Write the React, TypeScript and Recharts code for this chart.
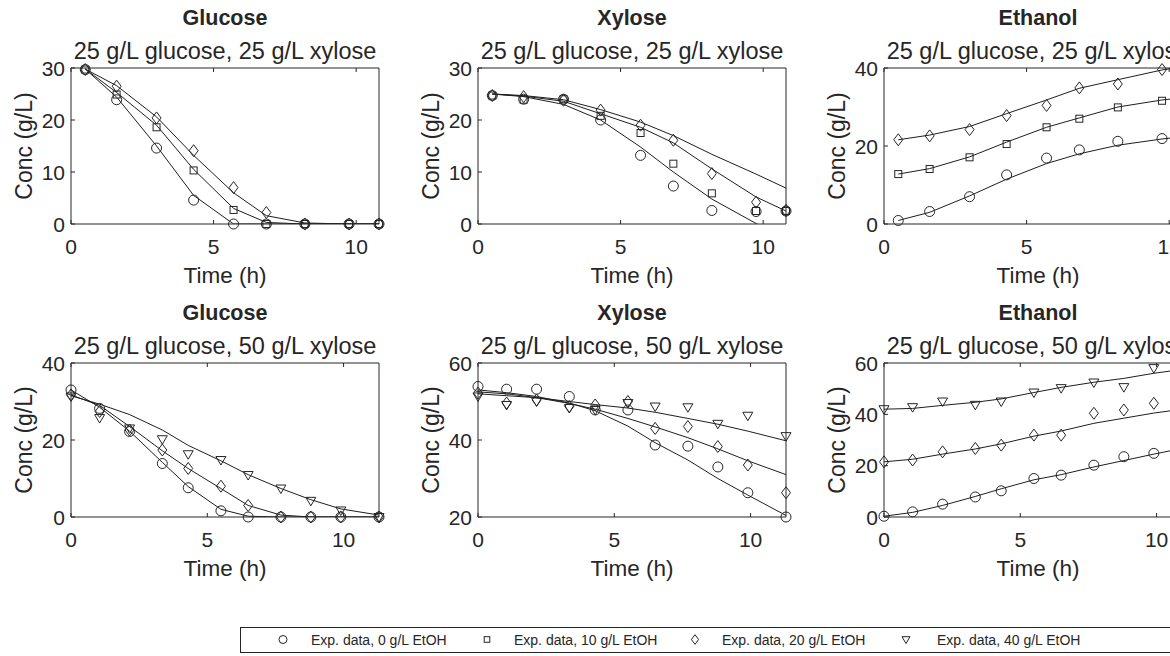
import React from "react";
import { ComposedChart, Line, Scatter, XAxis, YAxis } from "recharts";

// Cinética de glicose / xilose / etanol: pontos experimentais (marcadores) e curvas do modelo
// (linhas). Linha de cima = 25 g/L glicose + 25 g/L xilose; linha de baixo = 25 + 50.

const INK = "#262626";
const FONT = "'Liberation Sans', Arial, Helvetica, sans-serif";

const TIMES_A = [0.5, 1.6, 3.0, 4.3, 5.7, 6.85, 8.2, 9.75, 10.8];
const TIMES_B = [0, 1.05, 2.15, 3.35, 4.3, 5.5, 6.5, 7.7, 8.8, 9.9, 11.3];
const X_TICKS = [0, 5, 10];

// ---- 25 g/L glucose, 25 g/L xylose (0 / 10 / 20 g/L EtOH) ----
const GLU_A_EXP_0 = [29.7, 23.9, 14.6, 4.6, 0, 0, 0, 0, 0];
const GLU_A_EXP_10 = [29.7, 24.9, 18.6, 10.3, 2.7, 0, 0, 0, 0];
const GLU_A_EXP_20 = [29.7, 26.5, 20.4, 14.1, 7.0, 2.2, 0, 0, 0];
const GLU_A_MOD_0 = [29.8, 24.4, 15.0, 5.5, 0, 0, 0, 0, 0];
const GLU_A_MOD_10 = [29.8, 25.3, 19.0, 10.5, 3.0, 0.3, 0, 0, 0];
const GLU_A_MOD_20 = [29.8, 26.6, 20.6, 13.2, 6.0, 1.6, 0.2, 0, 0];

const XYL_A_EXP_0 = [24.7, 24.0, 24.0, 20.0, 13.2, 7.3, 2.6, 2.4, 2.5];
const XYL_A_EXP_10 = [24.7, 23.9, 24.0, 20.8, 17.5, 11.6, 5.9, 2.5, 2.5];
const XYL_A_EXP_20 = [24.7, 24.5, 23.8, 21.9, 19.0, 16.1, 9.7, 4.2, 2.6];
const XYL_A_MOD_0 = [25.0, 24.5, 23.0, 20.0, 14.8, 10.0, 4.8, 0.1, -3.0];
const XYL_A_MOD_10 = [25.0, 24.6, 23.6, 21.2, 18.6, 15.6, 10.6, 5.2, 2.5];
const XYL_A_MOD_20 = [25.0, 24.7, 23.9, 22.0, 19.6, 17.0, 13.4, 9.6, 6.9];

const ETH_A_EXP_0 = [0.9, 3.2, 7.0, 12.6, 16.9, 19.0, 21.2, 21.9, 22.6];
const ETH_A_EXP_10 = [12.8, 14.1, 17.1, 20.5, 24.8, 27.0, 29.9, 31.6, 32.5];
const ETH_A_EXP_20 = [21.6, 22.6, 24.2, 27.8, 30.4, 34.9, 35.9, 39.6, 40.0];
const ETH_A_MOD_0 = [0.9, 3.0, 7.2, 11.5, 15.5, 18.0, 20.2, 21.8, 22.6];
const ETH_A_MOD_10 = [12.8, 14.2, 17.2, 21.0, 24.8, 27.2, 30.0, 31.8, 32.6];
const ETH_A_MOD_20 = [21.6, 22.8, 25.0, 28.3, 31.8, 34.8, 37.0, 39.5, 40.6];

// ---- 25 g/L glucose, 50 g/L xylose (0 / 20 / 40 g/L EtOH) ----
const GLU_B_EXP_0 = [33.0, 28.2, 22.2, 13.9, 7.6, 1.6, 0, 0, 0, 0, 0];
const GLU_B_EXP_20 = [31.7, 27.4, 22.6, 17.4, 12.6, 8.0, 3.0, 0, 0, 0, 0];
const GLU_B_EXP_40 = [31.3, 25.7, 23.0, 20.2, 16.3, 14.8, 10.9, 7.4, 4.2, 1.7, 0];
const GLU_B_MOD_0 = [33.0, 28.5, 22.3, 14.2, 7.9, 2.0, 0.2, 0, 0, 0, 0];
const GLU_B_MOD_20 = [31.7, 29.0, 23.5, 17.2, 12.6, 7.4, 3.0, 0.5, 0, 0, 0];
const GLU_B_MOD_40 = [31.5, 29.3, 26.6, 22.6, 18.6, 14.6, 11.0, 7.4, 4.5, 2.1, 0.5];

const XYL_B_EXP_0 = [53.9, 53.2, 53.2, 51.3, 47.8, 47.8, 38.7, 38.4, 33.0, 26.3, 20.0];
const XYL_B_EXP_20 = [52.2, 49.6, 50.4, 48.7, 49.1, 50.0, 43.0, 43.5, 38.3, 33.5, 26.3];
const XYL_B_EXP_40 = [51.3, 49.1, 50.0, 48.3, 47.8, 49.6, 48.7, 48.5, 44.2, 46.3, 41.0];
const XYL_B_MOD_0 = [53.0, 52.3, 51.3, 49.6, 47.6, 43.6, 39.3, 34.8, 30.0, 25.7, 20.4];
const XYL_B_MOD_20 = [52.5, 52.0, 51.0, 49.5, 48.0, 45.6, 43.4, 40.6, 37.7, 34.6, 31.0];
const XYL_B_MOD_40 = [52.0, 51.5, 51.0, 50.0, 49.2, 48.3, 47.2, 45.6, 44.1, 42.3, 39.8];

const ETH_B_EXP_0 = [0.3, 2.0, 5.0, 7.8, 10.2, 15.0, 16.3, 20.2, 23.5, 24.8, 27.0];
const ETH_B_EXP_20 = [21.5, 22.2, 25.4, 26.7, 28.0, 31.9, 31.9, 40.4, 41.7, 44.3, 46.0];
const ETH_B_EXP_40 = [42.0, 42.8, 45.0, 43.7, 45.0, 48.5, 50.2, 52.4, 50.6, 58.0, 59.0];
const ETH_B_MOD_0 = [0.3, 1.8, 4.5, 8.0, 11.0, 14.5, 16.5, 19.5, 22.0, 24.5, 27.5];
const ETH_B_MOD_20 = [21.5, 22.5, 24.5, 26.5, 28.5, 31.5, 33.5, 36.5, 38.5, 40.5, 42.5];
const ETH_B_MOD_40 = [42.0, 42.3, 43.5, 44.7, 46.0, 48.5, 50.5, 52.5, 54.0, 56.0, 58.0];

const LEGEND = [
  { marker: "circle", label: "Exp. data, 0 g/L EtOH" },
  { marker: "square", label: "Exp. data, 10 g/L EtOH" },
  { marker: "diamond", label: "Exp. data, 20 g/L EtOH" },
  { marker: "triangle", label: "Exp. data, 40 g/L EtOH" },
] as const;

type Marker = "circle" | "square" | "diamond" | "triangle";

type Panel = {
  title: string;
  subtitle: string;
  left: number;
  top: number;
  plotH: number;
  xMax: number;
  yDomain: [number, number];
  yTicks: number[];
  times: number[];
  markers: Marker[];
  exp: number[][];
  model: number[][];
};

const PLOT_W = 308;
const COL_LEFT = [71, 478, 884];
const ROW_TOP = [68, 363];
const SUB_A = "25 g/L glucose, 25 g/L xylose";
const SUB_B = "25 g/L glucose, 50 g/L xylose";
const MK_A: Marker[] = ["circle", "square", "diamond"];
const MK_B: Marker[] = ["circle", "diamond", "triangle"];

const PANELS: Panel[] = [
  { title: "Glucose", subtitle: SUB_A, left: COL_LEFT[0], top: ROW_TOP[0], plotH: 156, xMax: 10.8, yDomain: [0, 30], yTicks: [0, 10, 20, 30], times: TIMES_A, markers: MK_A, exp: [GLU_A_EXP_0, GLU_A_EXP_10, GLU_A_EXP_20], model: [GLU_A_MOD_0, GLU_A_MOD_10, GLU_A_MOD_20] },
  { title: "Xylose", subtitle: SUB_A, left: COL_LEFT[1], top: ROW_TOP[0], plotH: 156, xMax: 10.8, yDomain: [0, 30], yTicks: [0, 10, 20, 30], times: TIMES_A, markers: MK_A, exp: [XYL_A_EXP_0, XYL_A_EXP_10, XYL_A_EXP_20], model: [XYL_A_MOD_0, XYL_A_MOD_10, XYL_A_MOD_20] },
  { title: "Ethanol", subtitle: SUB_A, left: COL_LEFT[2], top: ROW_TOP[0], plotH: 156, xMax: 10.8, yDomain: [0, 40], yTicks: [0, 20, 40], times: TIMES_A, markers: MK_A, exp: [ETH_A_EXP_0, ETH_A_EXP_10, ETH_A_EXP_20], model: [ETH_A_MOD_0, ETH_A_MOD_10, ETH_A_MOD_20] },
  { title: "Glucose", subtitle: SUB_B, left: COL_LEFT[0], top: ROW_TOP[1], plotH: 154, xMax: 11.3, yDomain: [0, 40], yTicks: [0, 20, 40], times: TIMES_B, markers: MK_B, exp: [GLU_B_EXP_0, GLU_B_EXP_20, GLU_B_EXP_40], model: [GLU_B_MOD_0, GLU_B_MOD_20, GLU_B_MOD_40] },
  { title: "Xylose", subtitle: SUB_B, left: COL_LEFT[1], top: ROW_TOP[1], plotH: 154, xMax: 11.3, yDomain: [20, 60], yTicks: [20, 40, 60], times: TIMES_B, markers: MK_B, exp: [XYL_B_EXP_0, XYL_B_EXP_20, XYL_B_EXP_40], model: [XYL_B_MOD_0, XYL_B_MOD_20, XYL_B_MOD_40] },
  { title: "Ethanol", subtitle: SUB_B, left: COL_LEFT[2], top: ROW_TOP[1], plotH: 154, xMax: 11.3, yDomain: [0, 60], yTicks: [0, 20, 40, 60], times: TIMES_B, markers: MK_B, exp: [ETH_B_EXP_0, ETH_B_EXP_20, ETH_B_EXP_40], model: [ETH_B_MOD_0, ETH_B_MOD_20, ETH_B_MOD_40] },
];

function MarkerGlyph({ kind, cx, cy, s = 1 }: { kind: Marker; cx: number; cy: number; s?: number }) {
  const st = { fill: "none", stroke: INK, strokeWidth: 1 };
  if (kind === "circle") return <circle cx={cx} cy={cy} r={5 * s} {...st} />;
  if (kind === "square") return <rect x={cx - 3.5 * s} y={cy - 3.5 * s} width={7 * s} height={7 * s} {...st} />;
  if (kind === "diamond") {
    const w = 4.5 * s, h = 6 * s;
    return <polygon points={`${cx},${cy - h} ${cx + w},${cy} ${cx},${cy + h} ${cx - w},${cy}`} {...st} />;
  }
  const w = 5 * s;
  return <polygon points={`${cx - w},${cy - 3.5 * s} ${cx + w},${cy - 3.5 * s} ${cx},${cy + 5 * s}`} {...st} />;
}

const shapeFor = (kind: Marker) => (p: any) =>
  p.cx == null || p.cy == null ? <g /> : <MarkerGlyph kind={kind} cx={p.cx} cy={p.cy} />;

const tickText = { fontFamily: FONT, fontSize: 21, fill: INK };

// ticks para dentro, como no MATLAB (caixa com marcas nos quatro lados)
const bottomTick = (p: any) => (
  <g>
    <line x1={p.x} x2={p.x} y1={p.y} y2={p.y - 4} stroke={INK} />
    <text x={p.x} y={p.y + 30} textAnchor="middle" {...tickText}>{p.payload.value}</text>
  </g>
);
const topTick = (p: any) => <line x1={p.x} x2={p.x} y1={p.y} y2={p.y + 4} stroke={INK} />;
const leftTick = (p: any) => (
  <g>
    <line x1={p.x} x2={p.x + 4} y1={p.y} y2={p.y} stroke={INK} />
    <text x={p.x - 6} y={p.y} dy="0.36em" textAnchor="end" {...tickText}>{p.payload.value}</text>
  </g>
);
const rightTick = (p: any) => <line x1={p.x - 4} x2={p.x} y1={p.y} y2={p.y} stroke={INK} />;

// espaço em volta da área do gráfico; os eixos ocupam 1px cada
const M = { top: 10, left: 70, right: 20, bottom: 45 };
const AX = 1;

function PanelChart({ p }: { p: Panel }) {
  const rows = p.times.map((t, i) => ({
    t,
    e0: p.exp[0][i], e1: p.exp[1][i], e2: p.exp[2][i],
    m0: p.model[0][i], m1: p.model[1][i], m2: p.model[2][i],
  }));
  const xDom: [number, number] = [0, p.xMax];
  const margin = { top: M.top - AX, left: M.left - AX, right: M.right - AX, bottom: M.bottom - AX };
  return (
    <div style={{ position: "absolute", left: p.left - M.left, top: p.top - M.top }}>
      <ComposedChart width={M.left + PLOT_W + M.right} height={M.top + p.plotH + M.bottom} data={rows} margin={margin}>
        <XAxis xAxisId="x" type="number" dataKey="t" domain={xDom} ticks={X_TICKS} interval={0} height={AX}
          tickSize={0} tickMargin={0} tick={bottomTick} axisLine={{ stroke: INK }} />
        <XAxis xAxisId="xt" orientation="top" type="number" dataKey="t" domain={xDom} ticks={X_TICKS} interval={0} height={AX}
          tickSize={0} tickMargin={0} tick={topTick} axisLine={{ stroke: INK }} />
        <XAxis xAxisId="xm" type="number" dataKey="t" domain={xDom} allowDataOverflow hide />
        <YAxis yAxisId="y" type="number" domain={p.yDomain} ticks={p.yTicks} interval={0} width={AX}
          tickSize={0} tickMargin={0} tick={leftTick} axisLine={{ stroke: INK }} />
        <YAxis yAxisId="yr" orientation="right" type="number" domain={p.yDomain} ticks={p.yTicks} interval={0} width={AX}
          tickSize={0} tickMargin={0} tick={rightTick} axisLine={{ stroke: INK }} />
        <YAxis yAxisId="ym" type="number" domain={p.yDomain} allowDataOverflow hide />
        {["m0", "m1", "m2"].map((k) => (
          <Line key={k} xAxisId="xm" yAxisId="ym" dataKey={k} type="linear" stroke="#1e1e1e" strokeWidth={1}
            dot={false} activeDot={false} isAnimationActive={false} />
        ))}
        {["e0", "e1", "e2"].map((k, i) => (
          <Scatter key={k} xAxisId="x" yAxisId="y" dataKey={k} shape={shapeFor(p.markers[i])} isAnimationActive={false} />
        ))}
      </ComposedChart>
    </div>
  );
}

function Labels() {
  const txt = { fontFamily: FONT, fill: INK };
  return (
    <svg width={1170} height={656} style={{ position: "absolute", left: 0, top: 0, pointerEvents: "none" }}>
      {PANELS.map((p, i) => {
        const cx = p.left + PLOT_W / 2;
        const bottom = p.top + p.plotH;
        return (
          <g key={i}>
            <text x={cx} y={p.top - 43} textAnchor="middle" fontSize={21.5} fontWeight="bold" {...txt}>{p.title}</text>
            <text x={cx} y={p.top - 9} textAnchor="middle" fontSize={23.5} {...txt}>{p.subtitle}</text>
            <text x={cx} y={bottom + 59} textAnchor="middle" fontSize={22.5} {...txt}>Time (h)</text>
            <text transform={`translate(${p.left - 47},${p.top + p.plotH / 2}) rotate(-90)`} textAnchor="middle" dy="0.36em"
              fontSize={23} {...txt}>Conc (g/L)</text>
          </g>
        );
      })}
      <rect x={240.5} y={627.5} width={960} height={25} fill="#fff" stroke={INK} strokeWidth={1} />
      {LEGEND.map((l, i) => {
        const mx = [283, 487, 695, 906][i];
        const tx = [311, 514, 722, 937][i];
        return (
          <g key={l.label}>
            <MarkerGlyph kind={l.marker} cx={mx} cy={639.5} s={0.8} />
            <text x={tx} y={645} fontSize={14} {...txt}>{l.label}</text>
          </g>
        );
      })}
    </svg>
  );
}

export default function App() {
  return (
    <div style={{ position: "absolute", left: 0, top: 0, width: 1170, height: 656, overflow: "hidden", background: "#fff" }}>
      {PANELS.map((p, i) => <PanelChart key={i} p={p} />)}
      <Labels />
    </div>
  );
}
